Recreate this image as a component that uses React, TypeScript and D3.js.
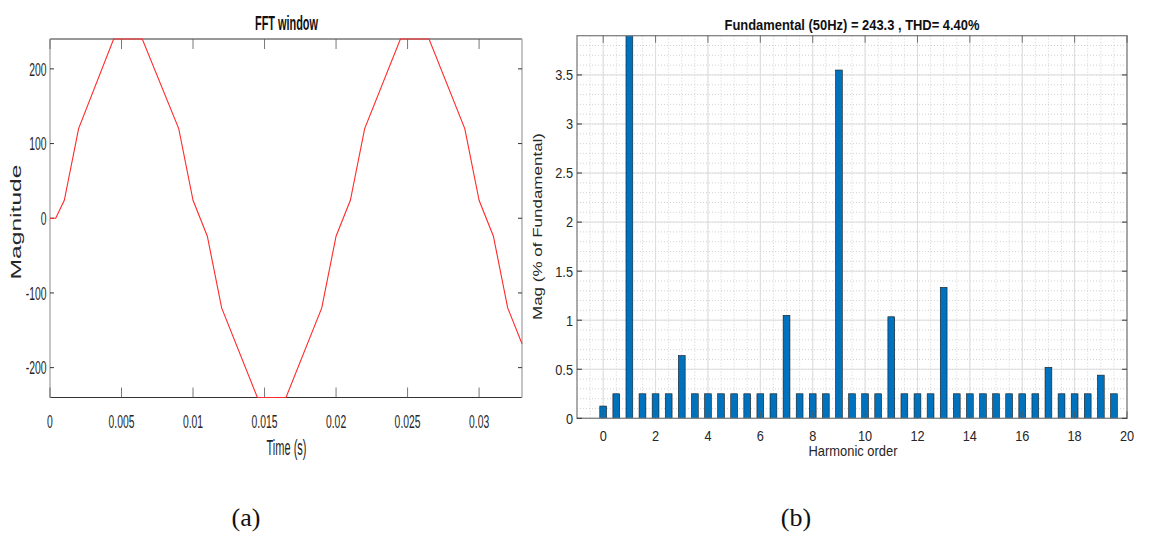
import React from "react";
import * as d3 from "d3";

// ---------- Data: panel (a) FFT window ----------
const timeS = [0, 0.0004, 0.001, 0.002, 0.00445, 0.00645, 0.009, 0.01, 0.011, 0.012, 0.0145, 0.0165, 0.019, 0.02, 0.021, 0.022, 0.0245, 0.0265, 0.029, 0.03, 0.031, 0.032, 0.033];
const magnitude = [0, 0, 24, 120, 240, 240, 120, 24, -24, -120, -240, -240, -120, -24, 24, 120, 240, 240, 120, 24, -24, -120, -168];
const timeTicks = [0, 0.005, 0.01, 0.015, 0.02, 0.025, 0.03];
const timeTickLabels = ["0", "0.005", "0.01", "0.015", "0.02", "0.025", "0.03"];
const magTicks = [-200, -100, 0, 100, 200];

// ---------- Data: panel (b) harmonic spectrum ----------
const harmonicOrder = [0, 0.5, 1, 1.5, 2, 2.5, 3, 3.5, 4, 4.5, 5, 5.5, 6, 6.5, 7, 7.5, 8, 8.5, 9, 9.5, 10, 10.5, 11, 11.5, 12, 12.5, 13, 13.5, 14, 14.5, 15, 15.5, 16, 16.5, 17, 17.5, 18, 18.5, 19, 19.5];
const magPercent = [0.125, 0.25, 100, 0.25, 0.25, 0.25, 0.64, 0.25, 0.25, 0.25, 0.25, 0.25, 0.25, 0.25, 1.05, 0.25, 0.25, 0.25, 3.55, 0.25, 0.25, 0.25, 1.035, 0.25, 0.25, 0.25, 1.335, 0.25, 0.25, 0.25, 0.25, 0.25, 0.25, 0.25, 0.52, 0.25, 0.25, 0.25, 0.44, 0.25];
const orderTicks = [0, 2, 4, 6, 8, 10, 12, 14, 16, 18, 20];
const pctTicks = [0, 0.5, 1, 1.5, 2, 2.5, 3, 3.5];
const pctTickLabels = ["0", "0.5", "1", "1.5", "2", "2.5", "3", "3.5"];

const FONT = "'Liberation Sans', Arial, Helvetica, sans-serif";

function T(props: any) {
  const { x, y, sx = 1, size, anchor = "middle", weight = "normal", rot = false, len, fill = "#262626", baseline, children } = props;
  return (
    <text
      transform={`translate(${x},${y}) scale(${sx},1)${rot ? " rotate(-90)" : ""}`}
      fontSize={size}
      fontFamily={FONT}
      fontWeight={weight}
      textAnchor={anchor}
      fill={fill}
      dominantBaseline={baseline}
      textLength={len}
      lengthAdjust={len ? "spacingAndGlyphs" : undefined}
    >
      {children}
    </text>
  );
}

export default function App() {
  // ----- panel (a) scales -----
  const xA = d3.scaleLinear().domain([0, 0.033]).range([50, 522]);
  const yA = d3.scaleLinear().domain([-240, 240]).range([397.5, 39]);
  const lineA = d3
    .line<number>()
    .x((_, i) => xA(timeS[i]))
    .y((d) => yA(d));
  const [ax0, ax1] = xA.range();
  const [ayB, ayT] = yA.range();

  // ----- panel (b) scales -----
  const xB = d3.scaleLinear().domain([-1, 20]).range([577, 1127]);
  const yB = d3.scaleLinear().domain([0, 3.9]).range([418.3, 35.7]);
  const [bx0, bx1] = xB.range();
  const [byB, byT] = yB.range();
  const barW = xB(0.26) - xB(0);
  const minorX = d3.range(-1, 20.001, 0.5);
  const minorY = d3.range(0, 3.9001, 0.1);

  return (
    <svg width={1149} height={534} style={{ position: "absolute", left: 0, top: 0, background: "#fff" }}>
      <defs>
        <clipPath id="clipB">
          <rect x={bx0} y={byT} width={bx1 - bx0} height={byB - byT} />
        </clipPath>
      </defs>

      {/* ================= Panel (a) ================= */}
      {/* box */}
      <line x1={ax0} x2={ax1} y1={ayT} y2={ayT} stroke="#333" strokeWidth={1} />
      <line x1={ax0} x2={ax1} y1={ayB} y2={ayB} stroke="#333" strokeWidth={1} />
      <line x1={ax0} x2={ax0} y1={ayT} y2={ayB} stroke="#b0b0b0" strokeWidth={1.5} />
      <line x1={ax1} x2={ax1} y1={ayT} y2={ayB} stroke="#b0b0b0" strokeWidth={1.5} />
      {timeTicks.map((t, i) => (
        <g key={"xa" + i}>
          <line x1={xA(t)} x2={xA(t)} y1={ayB} y2={ayB - 10} stroke="#555" strokeWidth={0.8} />
          <line x1={xA(t)} x2={xA(t)} y1={ayT} y2={ayT + 10} stroke="#555" strokeWidth={0.8} />
          <T x={xA(t)} y={427.5} sx={0.56} size={18.5}>{timeTickLabels[i]}</T>
        </g>
      ))}
      {magTicks.map((m, i) => (
        <g key={"ya" + i}>
          <line x1={ax0} x2={ax0 + 4} y1={yA(m)} y2={yA(m)} stroke="#333" strokeWidth={1} />
          <line x1={ax1} x2={ax1 - 4} y1={yA(m)} y2={yA(m)} stroke="#333" strokeWidth={1} />
          <T x={46.5} y={yA(m)} sx={0.56} size={18.5} anchor="end" baseline="central">{String(m)}</T>
        </g>
      ))}
      <path d={lineA(magnitude) || ""} fill="none" stroke="#ff2a2a" strokeWidth={1.1} />
      <T x={286.5} y={30} size={21} weight="bold" len={63} fill="#111">FFT window</T>
      <T x={286.5} y={455} size={22} len={40}>Time (s)</T>
      <T x={20.5} y={222} sx={0.58} size={24} rot len={115}>Magnitude</T>

      {/* ================= Panel (b) ================= */}
      {/* minor grid */}
      {minorX.map((v, i) => (
        <line key={"mx" + i} x1={xB(v)} x2={xB(v)} y1={byT} y2={byB} stroke="#c8c8c8" strokeWidth={0.8} strokeDasharray="1,2" />
      ))}
      {minorY.map((v, i) => (
        <line key={"my" + i} x1={bx0} x2={bx1} y1={yB(v)} y2={yB(v)} stroke="#c8c8c8" strokeWidth={0.8} strokeDasharray="1,2" />
      ))}
      {/* major grid */}
      {orderTicks.map((v, i) => (
        <line key={"gx" + i} x1={xB(v)} x2={xB(v)} y1={byT} y2={byB} stroke="#dcdcdc" strokeWidth={1} />
      ))}
      {pctTicks.map((v, i) => (
        <line key={"gy" + i} x1={bx0} x2={bx1} y1={yB(v)} y2={yB(v)} stroke="#dcdcdc" strokeWidth={1} />
      ))}
      {/* bars */}
      <g clipPath="url(#clipB)">
        {harmonicOrder.map((h, i) => (
          <rect
            key={"b" + i}
            x={xB(h) - barW / 2}
            y={yB(magPercent[i])}
            width={barW}
            height={byB - yB(magPercent[i])}
            fill="#0072BD"
            stroke="#1a1a1a"
            strokeWidth={0.6}
          />
        ))}
      </g>
      {/* box */}
      <rect x={bx0} y={byT} width={bx1 - bx0} height={byB - byT} fill="none" stroke="#7a7a7a" strokeWidth={1.2} />
      {orderTicks.map((v, i) => (
        <g key={"xb" + i}>
          <line x1={xB(v)} x2={xB(v)} y1={byB} y2={byB - 7} stroke="#555" strokeWidth={0.8} />
          <line x1={xB(v)} x2={xB(v)} y1={byT} y2={byT + 7} stroke="#555" strokeWidth={0.8} />
          <T x={xB(v)} y={441} sx={0.85} size={15}>{String(v)}</T>
        </g>
      ))}
      {pctTicks.map((v, i) => (
        <g key={"yb" + i}>
          <line x1={bx0} x2={bx0 + 5} y1={yB(v)} y2={yB(v)} stroke="#333" strokeWidth={1} />
          <line x1={bx1} x2={bx1 - 5} y1={yB(v)} y2={yB(v)} stroke="#333" strokeWidth={1} />
          <T x={573} y={yB(v)} sx={0.85} size={15} anchor="end" baseline="central">{pctTickLabels[i]}</T>
        </g>
      ))}
      <T x={852} y={30} size={15.5} weight="bold" len={255} fill="#111">Fundamental (50Hz) = 243.3 , THD= 4.40%</T>
      <T x={853} y={456} size={15} len={89}>Harmonic order</T>
      <T x={542} y={226.5} sx={0.72} size={17} rot len={187}>Mag (% of Fundamental)</T>

      {/* captions */}
      <text x={246} y={526} fontFamily="'Liberation Serif', 'Times New Roman', serif" fontSize={26} textAnchor="middle" fill="#111">(a)</text>
      <text x={796} y={526} fontFamily="'Liberation Serif', 'Times New Roman', serif" fontSize={26} textAnchor="middle" fill="#111">(b)</text>
    </svg>
  );
}
